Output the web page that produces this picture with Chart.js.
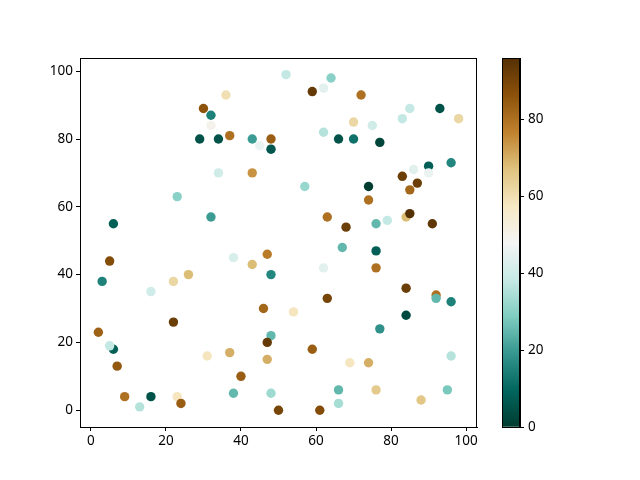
<!DOCTYPE html>
<html>
<head>
<meta charset="utf-8">
<script src="https://cdn.jsdelivr.net/npm/chart.js@4/dist/chart.umd.min.js"></script>
<style>
  body { margin: 0; background: #fff; }
  canvas { position: absolute; left: 0; top: 0; }
</style>
</head>
<body>
<canvas id="scatter" width="640" height="480"></canvas>
<canvas id="colorbar" width="640" height="480"></canvas>
<script>
// data
var xs = [2, 3, 5, 6, 5, 6, 7, 9, 13, 16, 16, 22, 22, 23, 23, 24, 26, 29, 30, 32, 32, 32, 31, 34, 34,
          36, 37, 37, 38, 38, 40, 43, 43, 43, 45, 46, 47, 48, 47, 47, 48, 48, 48, 48, 50, 52, 54, 57, 59, 59,
          61, 62, 62, 62, 63, 63, 64, 66, 66, 66, 67, 68, 69, 70, 70, 72, 74, 74, 74, 75, 76, 76, 76, 76, 77,
          77, 79, 83, 83, 84, 84, 84, 85, 85, 85, 86, 87, 88, 90, 90, 91, 92, 92, 93, 95, 96, 96, 96, 98];
var ys = [23, 38, 44, 18, 19, 55, 13, 4, 1, 4, 35, 26, 38, 63, 4, 2, 40, 80, 89, 87, 57, 84, 16, 80, 70,
          93, 81, 17, 45, 5, 10, 80, 70, 43, 78, 30, 46, 22, 20, 15, 80, 77, 40, 5, 0, 99, 29, 66, 18, 94,
          0, 95, 82, 42, 57, 33, 98, 80, 6, 2, 48, 54, 14, 85, 80, 93, 66, 62, 14, 84, 55, 47, 42, 6, 24,
          79, 56, 86, 69, 57, 36, 28, 58, 65, 89, 71, 67, 3, 72, 70, 55, 34, 33, 89, 6, 32, 73, 16, 86];
var cs = [83, 15, 88, 8, 38, 8, 85, 80, 36, 5, 40, 92, 62, 30, 58, 84, 68, 5, 86, 15, 20, 50, 58, 5, 40,
          60, 80, 70, 42, 25, 84, 20, 74, 68, 46, 82, 78, 25, 93, 70, 84, 6, 16, 33, 90, 38, 58, 32, 84, 93,
          88, 44, 36, 44, 80, 90, 30, 5, 25, 34, 25, 92, 58, 62, 12, 80, 0, 80, 70, 40, 25, 8, 80, 65, 18,
          2, 38, 38, 92, 68, 92, 3, 96, 82, 38, 44, 92, 66, 8, 46, 94, 80, 25, 5, 28, 15, 16, 36, 62];
var axisTicks = [0, 20, 40, 60, 80, 100];
var cbarTicks = [0, 20, 40, 60, 80];
var cMin = 0, cMax = 96;

// BrBG reversed
var stops = ['#003c30', '#01665e', '#35978f', '#80cdc1', '#c7eae5', '#f5f5f5',
             '#f6e8c3', '#dfc27d', '#bf812d', '#8c510a', '#543005'];

function hexRgb(h) {
    return [parseInt(h.substr(1, 2), 16), parseInt(h.substr(3, 2), 16), parseInt(h.substr(5, 2), 16)];
}

function cmap(v) {
    var t = (v - cMin) / (cMax - cMin);
    t = Math.max(0, Math.min(1, t));
    var p = t * (stops.length - 1);
    var i = Math.min(Math.floor(p), stops.length - 2);
    var f = p - i;
    var a = hexRgb(stops[i]), b = hexRgb(stops[i + 1]);
    var r = [0, 1, 2].map(function (k) { return Math.round(a[k] + (b[k] - a[k]) * f); });
    return 'rgb(' + r.join(',') + ')';
}

var font = { family: 'Noto Sans', size: 13.5 };
Chart.defaults.color = '#000';

var frame = {
    id: 'frame',
    afterDraw: function (chart) {
        var a = chart.chartArea, ctx = chart.ctx;
        ctx.save();
        ctx.strokeStyle = '#000';
        ctx.lineWidth = 1;
        ctx.strokeRect(Math.round(a.left) + 0.5, Math.round(a.top) + 0.5,
                       Math.round(a.right - a.left) - 1, Math.round(a.bottom - a.top));
        ctx.restore();
    }
};

function fixedTicks(list) {
    return function (scale) { scale.ticks = list.map(function (v) { return { value: v }; }); };
}

var pts = xs.map(function (x, i) { return { x: x, y: ys[i] }; });

new Chart(document.getElementById('scatter'), {
    type: 'scatter',
    data: {
        datasets: [{
            data: pts,
            pointRadius: 4.7,
            pointHoverRadius: 4.7,
            borderWidth: 0,
            pointBackgroundColor: cs.map(cmap),
            pointBorderColor: cs.map(cmap)
        }]
    },
    options: {
        responsive: false,
        animation: false,
        events: [],
        layout: { padding: { top: 58, right: 163, left: 0, bottom: 0 } },
        plugins: { legend: { display: false }, tooltip: { enabled: false } },
        scales: {
            x: {
                type: 'linear', min: -2.9, max: 102.9,
                afterBuildTicks: fixedTicks(axisTicks),
                afterFit: function (s) { s.height = 53; },
                grid: { drawOnChartArea: false, color: '#000', tickLength: 4 },
                border: { color: '#000' },
                ticks: { font: font, padding: 2, maxRotation: 0 }
            },
            y: {
                type: 'linear', min: -4.95, max: 103.9,
                afterBuildTicks: fixedTicks(axisTicks),
                afterFit: function (s) { s.width = 80; },
                grid: { drawOnChartArea: false, color: '#000', tickLength: 4 },
                border: { color: '#000' },
                ticks: { font: font, padding: 3 }
            }
        }
    },
    plugins: [frame]
});

/* colorbar */
new Chart(document.getElementById('colorbar'), {
    type: 'bar',
    data: {
        labels: ['c'],
        datasets: [{
            data: [[cMin, cMax]],
            borderWidth: 0,
            barPercentage: 1,
            categoryPercentage: 1,
            backgroundColor: function (ctx) {
                var area = ctx.chart.chartArea;
                if (!area) return stops[0];
                var g = ctx.chart.ctx.createLinearGradient(0, area.bottom, 0, area.top);
                stops.forEach(function (s, i) { g.addColorStop(i / (stops.length - 1), s); });
                return g;
            }
        }]
    },
    options: {
        responsive: false,
        animation: false,
        events: [],
        layout: { padding: { top: 58, left: 502, right: 0, bottom: 53 } },
        plugins: { legend: { display: false }, tooltip: { enabled: false } },
        scales: {
            x: { display: false },
            y: {
                position: 'right',
                min: cMin, max: cMax,
                afterBuildTicks: fixedTicks(cbarTicks),
                afterFit: function (s) { s.width = 120; },
                grid: { drawOnChartArea: false, color: '#000', tickLength: 4 },
                border: { color: '#000' },
                ticks: { font: font, padding: 4 }
            }
        }
    },
    plugins: [frame]
});
</script>
</body>
</html>
